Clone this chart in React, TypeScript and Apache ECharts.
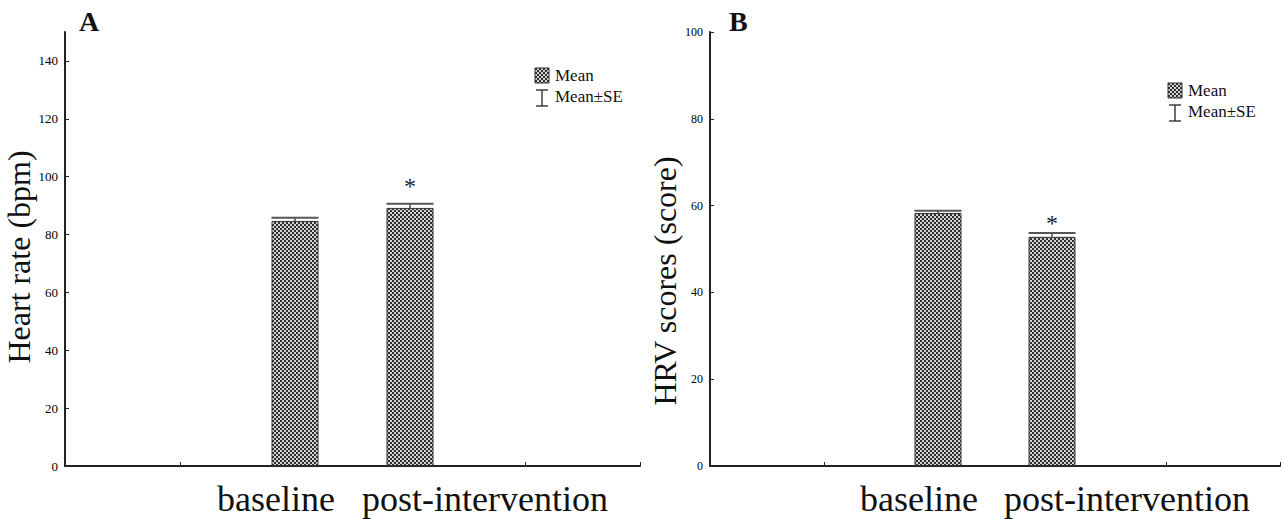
import React, { useEffect, useRef } from 'react';
import * as echarts from 'echarts';

// ---- data ----
const groups = ['baseline', 'post-intervention'];
const heartMean = [84.7, 89.2];
const heartSE = [1.1, 1.4];
const heartSig = [false, true];
const hrvMean = [58.3, 52.8];
const hrvSE = [0.5, 0.9];
const hrvSig = [false, true];
const heartTicks = [0, 20, 40, 60, 80, 100, 120, 140];
const heartMax = 150;
const hrvTicks = [0, 20, 40, 60, 80, 100];
const hrvMax = 100;
const panelLetters = ['A', 'B'];
const yTitles = ['Heart rate (bpm)', 'HRV scores (score)'];
const legendLabels = ['Mean', 'Mean±SE'];
const padBefore = 2;
const padAfter = 2;

const FONT = '"Liberation Serif", "Times New Roman", serif';

const checkerSvg =
  "<svg xmlns='http://www.w3.org/2000/svg' width='4' height='4'>" +
  "<rect width='4' height='4' fill='#d4d4d4'/>" +
  "<rect width='2' height='2' fill='#2e2e2e'/>" +
  "<rect x='2' y='2' width='2' height='2' fill='#2e2e2e'/></svg>";
const checkerUrl = 'data:image/svg+xml;charset=utf-8,' + encodeURIComponent(checkerSvg);
const checker: any = { image: checkerUrl, repeat: 'repeat', imageWidth: 4, imageHeight: 4 };

const categories = [
  ...Array.from({ length: padBefore }, (_, i) => `_pre${i}`),
  ...groups,
  ...Array.from({ length: padAfter }, (_, i) => `_post${i}`),
];

const panels = [
  {
    mean: heartMean, se: heartSE, sig: heartSig, ticks: heartTicks, max: heartMax,
    title: yTitles[0], letter: panelLetters[0],
    grid: { left: 65, top: 32, width: 575, height: 434 },
    letterPos: [79, 7], legendPos: [535, 68], starGap: 20, namePad: 16, labelFont: 13,
  },
  {
    mean: hrvMean, se: hrvSE, sig: hrvSig, ticks: hrvTicks, max: hrvMax,
    title: yTitles[1], letter: panelLetters[1],
    grid: { left: 710, top: 32, width: 570, height: 434 },
    letterPos: [729, 7], legendPos: [1168, 83], starGap: 12, namePad: 64, labelFont: 12,
  },
];

export default function App() {
  const ref = useRef<HTMLDivElement>(null);
  useEffect(() => {
    if (!ref.current) return;
    const chart = echarts.init(ref.current, null, { renderer: 'svg' });

    const grids: any[] = [];
    const xAxes: any[] = [];
    const yAxes: any[] = [];
    const series: any[] = [];
    const graphics: any[] = [];

    panels.forEach((p, pi) => {
      grids.push({ ...p.grid, containLabel: false });
      xAxes.push({
        type: 'category',
        gridIndex: pi,
        data: categories,
        boundaryGap: false,
        axisLine: { show: true, lineStyle: { color: '#222', width: 2 } },
        axisTick: { show: true, inside: true, length: 4, alignWithLabel: true, lineStyle: { color: '#222' } },
        axisLabel: {
          interval: 0,
          margin: 15,
          formatter: (v: string) =>
            v === groups[0] ? `{l|${v}}` : v === groups[1] ? `{r|${v}}` : '',
          rich: {
            l: { fontFamily: FONT, fontSize: 36, color: '#111', padding: [0, 38, 0, 0] },
            r: { fontFamily: FONT, fontSize: 36, color: '#111', padding: [0, 0, 0, 150] },
          },
        },
        splitLine: { show: false },
      });
      yAxes.push({
        type: 'value',
        gridIndex: pi,
        min: 0,
        max: p.max,
        interval: 20,
        name: p.title,
        nameLocation: 'middle',
        nameGap: 28,
        nameTextStyle: { fontFamily: FONT, fontSize: 32, color: '#111', padding: [0, p.namePad, 0, 0] },
        axisLine: { show: true, lineStyle: { color: '#222', width: 2 } },
        axisTick: { show: true, inside: true, length: 4, customValues: p.ticks, lineStyle: { color: '#222' } },
        axisLabel: {
          customValues: p.ticks,
          margin: 7,
          fontFamily: FONT,
          fontSize: p.labelFont,
          color: '#000',
        },
        splitLine: { show: false },
      });

      const barData = categories.map((c) => {
        const gi = groups.indexOf(c);
        return gi >= 0 ? p.mean[gi] : null;
      });
      series.push({
        type: 'bar',
        name: legendLabels[0],
        xAxisIndex: pi,
        yAxisIndex: pi,
        data: barData,
        barWidth: 47,
        itemStyle: { color: checker, borderColor: '#333', borderWidth: 1 },
      });

      const errData = groups.map((g, i) => [padBefore + i, p.mean[i], p.se[i], p.sig[i] ? 1 : 0]);
      series.push({
        type: 'custom',
        name: legendLabels[1],
        xAxisIndex: pi,
        yAxisIndex: pi,
        data: errData,
        encode: { x: 0, y: 1 },
        z: 5,
        renderItem: (params: any, api: any) => {
          const idx = api.value(0);
          const m = api.value(1);
          const se = api.value(2);
          const sig = api.value(3);
          const top = api.coord([idx, m + se]);
          const mid = api.coord([idx, m]);
          const half = 23.5;
          const children: any[] = [
            { type: 'line', shape: { x1: top[0], y1: mid[1], x2: top[0], y2: top[1] }, style: { stroke: '#444', lineWidth: 1.5 } },
            { type: 'line', shape: { x1: top[0] - half, y1: top[1], x2: top[0] + half, y2: top[1] }, style: { stroke: '#555', lineWidth: 2 } },
          ];
          if (sig) {
            children.push({
              type: 'text',
              x: top[0],
              y: top[1] - p.starGap + 2,
              style: { text: '*', fontFamily: FONT, fontSize: 24, fill: '#222', align: 'center', verticalAlign: 'middle' },
            });
          }
          return { type: 'group', children };
        },
      });

      // panel letter
      graphics.push({
        type: 'text',
        left: p.letterPos[0],
        top: p.letterPos[1],
        style: { text: p.letter, fontFamily: FONT, fontSize: 28, fontWeight: 'bold', fill: '#111' },
      });
      // legend
      const [lx, ly] = p.legendPos;
      graphics.push({
        type: 'group',
        x: lx,
        y: ly,
        children: [
          { type: 'rect', shape: { x: 0, y: 0, width: 14, height: 15 }, style: { fill: checker, stroke: '#333', lineWidth: 1 } },
          { type: 'text', x: 20, y: 7.5, style: { text: legendLabels[0], fontFamily: FONT, fontSize: 17, fill: '#111', verticalAlign: 'middle' } },
          { type: 'line', shape: { x1: 7, y1: 22, x2: 7, y2: 38 }, style: { stroke: '#222', lineWidth: 1.3 } },
          { type: 'line', shape: { x1: 1, y1: 22, x2: 13, y2: 22 }, style: { stroke: '#222', lineWidth: 1.3 } },
          { type: 'line', shape: { x1: 1, y1: 38, x2: 13, y2: 38 }, style: { stroke: '#222', lineWidth: 1.3 } },
          { type: 'text', x: 20, y: 28, style: { text: legendLabels[1], fontFamily: FONT, fontSize: 17, fill: '#111', verticalAlign: 'middle' } },
        ],
      });
    });

    chart.setOption({
      animation: false,
      backgroundColor: '#ffffff',
      grid: grids,
      xAxis: xAxes,
      yAxis: yAxes,
      series,
      graphic: graphics,
    });
    return () => chart.dispose();
  }, []);

  return (
    <div
      ref={ref}
      style={{ position: 'fixed', left: 0, top: 0, width: 1284, height: 519, background: '#fff' }}
    />
  );
}
